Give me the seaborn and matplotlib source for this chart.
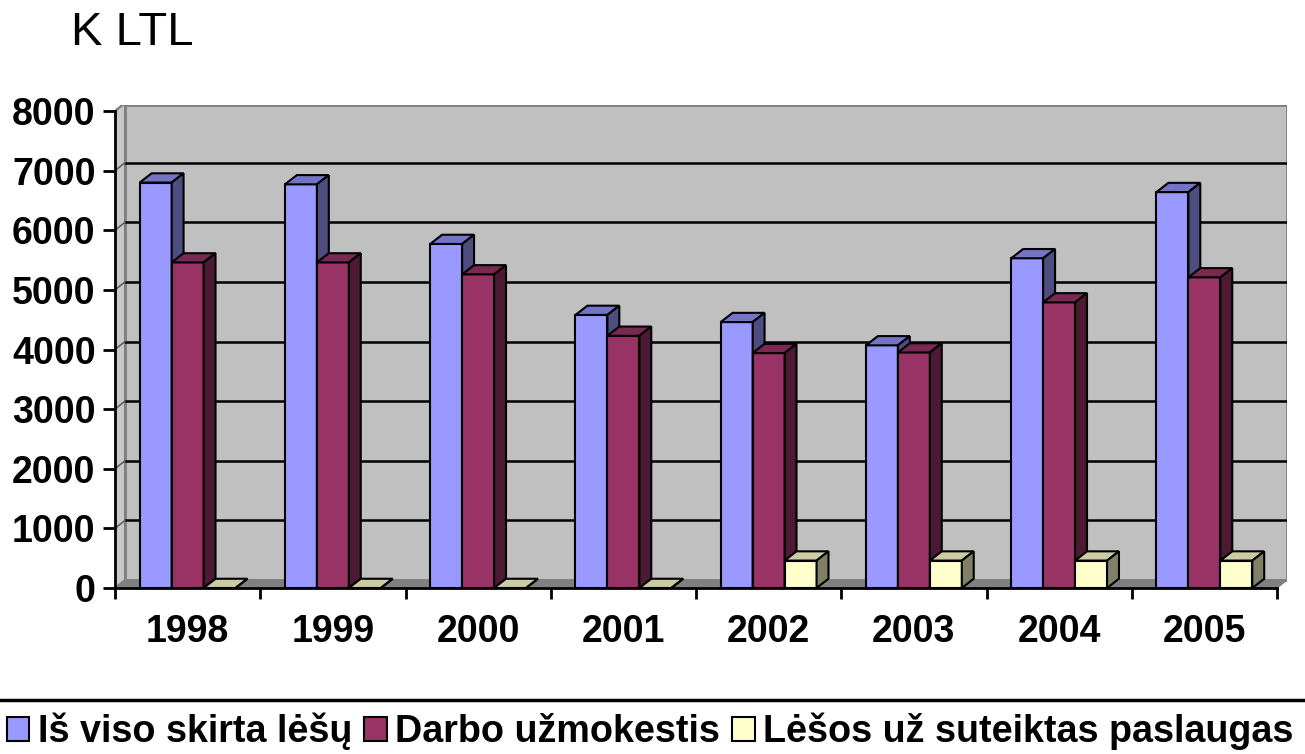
import numpy as np
import pandas as pd
import seaborn as sns
import matplotlib.pyplot as plt
from matplotlib.patches import Polygon, Rectangle
from matplotlib.lines import Line2D

# values (K LTL)
years = ['1998', '1999', '2000', '2001', '2002', '2003', '2004', '2005']
total_funds = [6800, 6770, 5770, 4580, 4460, 4070, 5530, 6640]
salaries = [5460, 5460, 5260, 4230, 3940, 3950, 4790, 5210]
services = [0, 0, 0, 0, 460, 460, 460, 460]
series_names = ['Iš viso skirta lėšų', 'Darbo užmokestis', 'Lėšos už suteiktas paslaugas']

front_colors = ['#9999FF', '#993366', '#FFFFCC']
top_colors = ['#7373C8', '#7A2952', '#CCCCA3']
side_colors = ['#4D4D80', '#4D1A33', '#808066']

df = pd.DataFrame({
    'year': years * 3,
    'value': total_funds + salaries + services,
    'series': [series_names[0]] * 8 + [series_names[1]] * 8 + [series_names[2]] * 8,
})

sns.set_style("white")
plt.rcParams['font.family'] = ['Liberation Sans', 'DejaVu Sans']
plt.rcParams['text.color'] = 'black'
plt.rcParams['xtick.color'] = 'black'
plt.rcParams['ytick.color'] = 'black'
plt.rcParams['axes.labelcolor'] = 'black'

W, H = 1305, 754
fig = plt.figure(figsize=(W / 100, H / 100), dpi=100)
ax = fig.add_axes([115 / W, (H - 588) / H, (1287 - 115) / W, (588 - 105) / H])

ymax = 483 / (477 / 8000)
x_lo, x_hi = -0.5, -0.5 + 1172 / 145.25
wall_dx = 10 / 145.25
wall_dy = 8 * 8000 / 477
bar_dx = 0.082
bar_dy = 155

# walls and floor
ax.add_patch(Rectangle((-0.5 + wall_dx, wall_dy), 8, ymax - wall_dy,
                       facecolor='#C0C0C0', edgecolor='#808080', lw=2, zorder=0.5))
ax.add_patch(Polygon([(-0.5, 0), (-0.5, 8000), (-0.5 + wall_dx, 8000 + wall_dy), (-0.5 + wall_dx, wall_dy)],
                     closed=True, facecolor='#C8C8C8', edgecolor='#808080', lw=1.5, zorder=0.6))
ax.add_patch(Polygon([(-0.5, 0), (7.5, 0), (7.5 + wall_dx, wall_dy), (-0.5 + wall_dx, wall_dy)],
                     closed=True, facecolor='#808080', edgecolor='#808080', lw=1, zorder=0.6))
for k in range(1, 8):
    v = k * 1000
    ax.plot([-0.5 + wall_dx, 7.5 + wall_dx], [v + wall_dy, v + wall_dy], color='black', lw=1.8, zorder=0.8)
    ax.plot([-0.5, -0.5 + wall_dx], [v, v + wall_dy], color='#606060', lw=1.2, zorder=0.8)
ax.plot([-0.5, -0.5 + wall_dx], [8000, 8000 + wall_dy], color='#808080', lw=1.5, zorder=0.8)

sns.barplot(data=df, x='year', y='value', hue='series', palette=front_colors, width=0.66,
            saturation=1, edgecolor='black', linewidth=1.5, ax=ax)

# pseudo-3D faces
for i, container in enumerate(ax.containers):
    for patch in container:
        patch.set_zorder(3 + i * 2)
        x0, w, h = patch.get_x(), patch.get_width(), patch.get_height()
        top = Polygon([(x0, h), (x0 + w, h), (x0 + w + bar_dx, h + bar_dy), (x0 + bar_dx, h + bar_dy)],
                      closed=True, facecolor=top_colors[i], edgecolor='black', lw=1.5, zorder=3 + i * 2)
        side = Polygon([(x0 + w, 0), (x0 + w, h), (x0 + w + bar_dx, h + bar_dy), (x0 + w + bar_dx, bar_dy)],
                       closed=True, facecolor=side_colors[i], edgecolor='black', lw=1.5, zorder=3 + i * 2)
        ax.add_patch(top)
        ax.add_patch(side)

ax.set_xlim(x_lo, x_hi)
ax.set_ylim(0, ymax)
ax.set_xlabel('')
ax.set_ylabel('')
ax.set_facecolor('white')

for s in ['top', 'right']:
    ax.spines[s].set_visible(False)
ax.spines['left'].set_bounds(0, 8000)
ax.spines['bottom'].set_bounds(-0.5, 7.5)
for s in ['left', 'bottom']:
    ax.spines[s].set_linewidth(2)
    ax.spines[s].set_color('black')
    ax.spines[s].set_zorder(20)

ax.set_yticks(np.arange(0, 8001, 1000))
ax.set_yticklabels([str(v) for v in range(0, 8001, 1000)], fontsize=27, fontweight='bold')
ax.tick_params(axis='y', direction='out', length=9, width=2, pad=5, left=True)
ax.set_xticks(range(len(years)))
ax.set_xticklabels(years, fontsize=27, fontweight='bold')
ax.tick_params(axis='x', which='major', length=0, pad=19)
ax.set_xticks(np.arange(-0.5, 8, 1), minor=True)
ax.tick_params(axis='x', which='minor', direction='out', length=8, width=2, bottom=True)

fig.text(71 / W, 1 - 45 / H, 'K LTL', fontsize=34, va='baseline', ha='left')

fig.add_artist(Line2D([0, 1], [1 - 700 / H, 1 - 700 / H], color='black', lw=2.5, transform=fig.transFigure))

sns.move_legend(ax, 'upper left', bbox_to_anchor=(3 / W, 1 - 709 / H), bbox_transform=fig.transFigure,
                ncol=3, frameon=False, title=None, prop={'size': 27.2, 'weight': 'bold'},
                handlelength=0.6, handleheight=0.6, handletextpad=0.22, columnspacing=0.32,
                borderpad=0.1, borderaxespad=0)

fig.savefig('out.png', dpi=100)
